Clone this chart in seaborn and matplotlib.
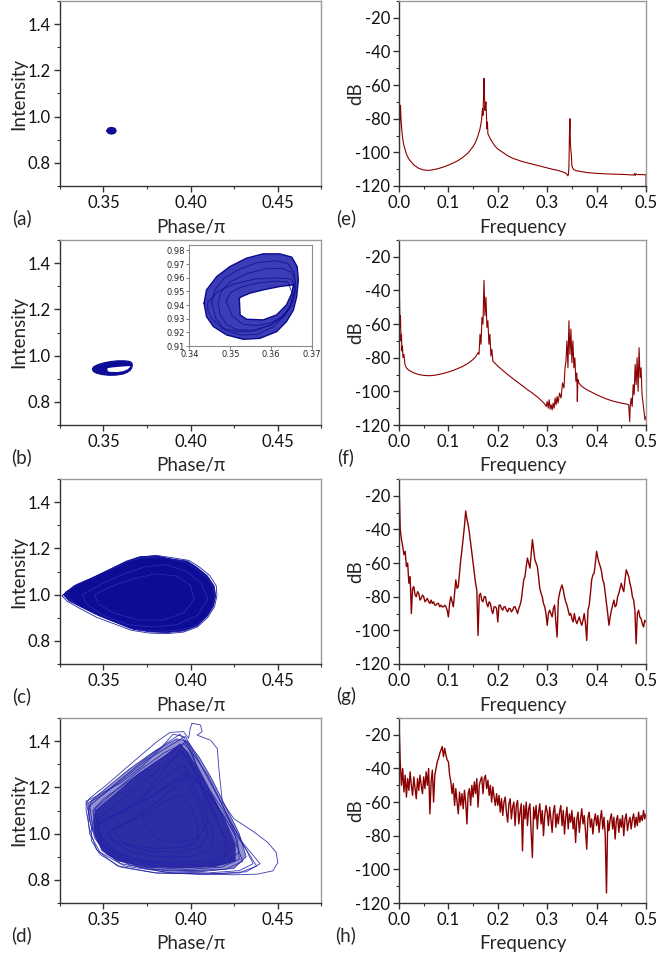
import numpy as np
import pandas as pd
import matplotlib
matplotlib.use('Agg')
import matplotlib.pyplot as plt
import seaborn as sns
from matplotlib.ticker import MultipleLocator

sns.set_theme(style='ticks')
plt.rcParams['font.family'] = ['Lato', 'DejaVu Sans']

# ---------------- data: phase portraits ----------------
a_phase = [0.3524, 0.3530, 0.3546, 0.3562, 0.3568, 0.3562, 0.3546, 0.3530]
a_intensity = [0.939, 0.947, 0.950, 0.947, 0.939, 0.931, 0.928, 0.931]

b_outer_phase = [0.3436, 0.3442, 0.3467, 0.3499, 0.3540, 0.3580, 0.3621, 0.3650, 0.3663, 0.3666,
                 0.3662, 0.3654, 0.3637, 0.3613, 0.3572, 0.3532, 0.3491, 0.3459, 0.3442]
b_outer_intensity = [0.9413, 0.9511, 0.9609, 0.9682, 0.9744, 0.9775, 0.9775, 0.9751, 0.9682, 0.9585,
                     0.9462, 0.9364, 0.9279, 0.9205, 0.9156, 0.9149, 0.9181, 0.9242, 0.9315]
b_hole_phase = [0.3522, 0.3524, 0.3540, 0.3580, 0.3613, 0.3637, 0.3650, 0.3654, 0.3621, 0.3580,
                0.3548, 0.3528]
b_hole_intensity = [0.9450, 0.9328, 0.9296, 0.9291, 0.9328, 0.9401, 0.9487, 0.9548, 0.9536, 0.9511,
                    0.9487, 0.9462]
b_texture_phase = [
    [0.3470, 0.3478, 0.3500, 0.3540, 0.3585, 0.3625, 0.3650, 0.3658, 0.3655, 0.3645,
     0.3625, 0.3595, 0.3555, 0.3515, 0.3490, 0.3475],
    [0.3445, 0.3470, 0.3510, 0.3560, 0.3610, 0.3650, 0.3660, 0.3650, 0.3630, 0.3600,
     0.3560, 0.3520, 0.3480, 0.3455, 0.3445],
    [0.3455, 0.3462, 0.3485, 0.3520, 0.3565, 0.3610, 0.3640, 0.3655, 0.3660, 0.3652,
     0.3635, 0.3605, 0.3565, 0.3525, 0.3488, 0.3465],
    [0.3490, 0.3500, 0.3525, 0.3565, 0.3605, 0.3640, 0.3652, 0.3648, 0.3630, 0.3600,
     0.3565, 0.3530, 0.3505],
]
b_texture_intensity = [
    [0.9420, 0.9500, 0.9570, 0.9630, 0.9665, 0.9670, 0.9640, 0.9580, 0.9480, 0.9390,
     0.9310, 0.9250, 0.9215, 0.9220, 0.9260, 0.9330],
    [0.9420, 0.9500, 0.9555, 0.9590, 0.9600, 0.9590, 0.9500, 0.9400, 0.9320, 0.9255,
     0.9210, 0.9205, 0.9230, 0.9300, 0.9360],
    [0.9415, 0.9510, 0.9595, 0.9660, 0.9710, 0.9725, 0.9705, 0.9640, 0.9540, 0.9430,
     0.9330, 0.9240, 0.9185, 0.9180, 0.9215, 0.9300],
    [0.9430, 0.9490, 0.9530, 0.9560, 0.9575, 0.9570, 0.9480, 0.9390, 0.9320, 0.9270,
     0.9250, 0.9260, 0.9320],
]

c_outer_phase = [0.3269, 0.3341, 0.3438, 0.3535, 0.3632, 0.3709, 0.3806, 0.3884, 0.3981, 0.4039,
                 0.4097, 0.4136, 0.4145, 0.4132, 0.4097, 0.4039, 0.3961, 0.3864, 0.3767, 0.3671,
                 0.3574, 0.3477, 0.3380, 0.3302]
c_outer_intensity = [1.000, 1.040, 1.073, 1.109, 1.145, 1.164, 1.167, 1.155, 1.145, 1.117,
                     1.081, 1.037, 0.994, 0.951, 0.908, 0.865, 0.843, 0.836, 0.839, 0.850,
                     0.879, 0.908, 0.944, 0.973]
c_edge_phase = [
    [0.3262, 0.3330, 0.3430, 0.3530, 0.3630, 0.3710, 0.3800, 0.3890, 0.3990, 0.4050, 0.4110, 0.4148,
     0.4152, 0.4138, 0.4100, 0.4040, 0.3960, 0.3860, 0.3760, 0.3660, 0.3560, 0.3460, 0.3360, 0.3290],
    [0.3280, 0.3350, 0.3450, 0.3550, 0.3650, 0.3730, 0.3820, 0.3900, 0.3970, 0.4030, 0.4090, 0.4130,
     0.4140, 0.4125, 0.4090, 0.4030, 0.3950, 0.3850, 0.3750, 0.3650, 0.3550, 0.3450, 0.3350, 0.3300],
]
c_edge_intensity = [
    [0.995, 1.038, 1.071, 1.106, 1.141, 1.162, 1.170, 1.160, 1.148, 1.120, 1.083, 1.038,
     0.995, 0.948, 0.903, 0.860, 0.838, 0.831, 0.834, 0.846, 0.874, 0.902, 0.942, 0.972],
    [1.010, 1.045, 1.077, 1.112, 1.146, 1.160, 1.163, 1.152, 1.140, 1.112, 1.076, 1.033,
     0.990, 0.945, 0.905, 0.866, 0.848, 0.842, 0.844, 0.856, 0.886, 0.917, 0.955, 0.985],
]
c_inner_phase = [
    [0.338, 0.350, 0.362, 0.374, 0.386, 0.398, 0.406, 0.410, 0.404, 0.392, 0.378, 0.364, 0.350, 0.340],
    [0.345, 0.356, 0.368, 0.380, 0.392, 0.400, 0.402, 0.396, 0.384, 0.370, 0.356, 0.347],
]
c_inner_intensity = [
    [1.00, 1.05, 1.09, 1.12, 1.13, 1.10, 1.05, 0.98, 0.91, 0.87, 0.86, 0.87, 0.91, 0.96],
    [1.00, 1.04, 1.07, 1.09, 1.08, 1.04, 0.98, 0.92, 0.89, 0.89, 0.92, 0.96],
]

d_hull_phase = [0.341, 0.352, 0.365, 0.380, 0.392, 0.398, 0.405, 0.412, 0.420, 0.428, 0.432, 0.425,
                0.405, 0.385, 0.365, 0.352, 0.345, 0.342]
d_hull_intensity = [1.13, 1.20, 1.28, 1.36, 1.41, 1.40, 1.33, 1.24, 1.12, 1.00, 0.90, 0.85,
                    0.835, 0.84, 0.865, 0.91, 0.98, 1.06]
d_core_phase = [0.345, 0.356, 0.370, 0.384, 0.394, 0.399, 0.405, 0.413, 0.421, 0.426, 0.426, 0.414,
                0.395, 0.375, 0.358, 0.349, 0.345, 0.344]
d_core_intensity = [1.10, 1.17, 1.26, 1.33, 1.39, 1.35, 1.27, 1.16, 1.04, 0.95, 0.88, 0.855,
                    0.85, 0.855, 0.88, 0.925, 0.99, 1.05]
d_loops_phase = [
    [0.4009, 0.4057, 0.4067, 0.4038, 0.4115, 0.4154, 0.4163, 0.4183, 0.4250, 0.4367, 0.4444, 0.4492,
     0.4502, 0.4473, 0.4386, 0.4250, 0.4057, 0.3864, 0.3709, 0.3573, 0.3477, 0.3428, 0.3403, 0.3418,
     0.3515, 0.3670, 0.3806, 0.3883, 0.3960, 0.3989, 0.3999],
    [0.341, 0.352, 0.365, 0.380, 0.392, 0.398, 0.405, 0.412, 0.420, 0.428, 0.432, 0.425, 0.405, 0.385,
     0.365, 0.352, 0.345, 0.342],
    [0.344, 0.356, 0.370, 0.385, 0.396, 0.402, 0.410, 0.418, 0.425, 0.428, 0.420, 0.400, 0.380, 0.362,
     0.350, 0.345],
    [0.346, 0.358, 0.372, 0.386, 0.395, 0.400, 0.406, 0.414, 0.420, 0.420, 0.410, 0.390, 0.372, 0.357,
     0.349],
    [0.350, 0.362, 0.376, 0.388, 0.396, 0.401, 0.408, 0.413, 0.412, 0.400, 0.382, 0.366, 0.355],
    [0.343, 0.350, 0.362, 0.375, 0.388, 0.397, 0.401, 0.407, 0.415, 0.424, 0.432, 0.436, 0.428, 0.410,
     0.385, 0.362, 0.348, 0.342, 0.341],
    [0.355, 0.366, 0.378, 0.389, 0.397, 0.402, 0.407, 0.410, 0.405, 0.392, 0.376, 0.363],
    [0.347, 0.360, 0.375, 0.390, 0.400, 0.410, 0.420, 0.427, 0.428, 0.418, 0.398, 0.375, 0.358, 0.349],
    [0.372, 0.382, 0.391, 0.397, 0.401, 0.404, 0.408, 0.410, 0.404, 0.392, 0.380, 0.373],
    [0.340, 0.348, 0.360, 0.372, 0.383, 0.390, 0.396, 0.399, 0.403, 0.410, 0.418, 0.430, 0.440, 0.432,
     0.410, 0.380, 0.358, 0.346, 0.342, 0.340],
    [0.342, 0.356, 0.372, 0.386, 0.394, 0.398, 0.404, 0.411, 0.419, 0.426, 0.430, 0.420, 0.400, 0.378,
     0.360, 0.349, 0.344],
    [0.345, 0.350, 0.365, 0.380, 0.392, 0.399, 0.405, 0.412, 0.418, 0.423, 0.418, 0.402, 0.382, 0.365,
     0.353, 0.347],
    [0.352, 0.362, 0.375, 0.386, 0.394, 0.400, 0.404, 0.404, 0.395, 0.380, 0.365, 0.356],
    [0.343, 0.350, 0.365, 0.382, 0.396, 0.404, 0.414, 0.424, 0.433, 0.438, 0.428, 0.405, 0.380, 0.360,
     0.348, 0.343],
]
d_loops_intensity = [
    [1.477, 1.470, 1.441, 1.426, 1.404, 1.368, 1.281, 1.136, 1.064, 1.006, 0.962, 0.919,
     0.875, 0.839, 0.825, 0.822, 0.825, 0.832, 0.854, 0.904, 0.962, 1.035, 1.129, 1.151,
     1.209, 1.310, 1.397, 1.438, 1.441, 1.412, 1.456],
    [1.13, 1.20, 1.28, 1.36, 1.41, 1.40, 1.33, 1.24, 1.12, 1.00, 0.90, 0.85, 0.835, 0.84,
     0.865, 0.91, 0.98, 1.06],
    [1.10, 1.18, 1.27, 1.35, 1.39, 1.34, 1.25, 1.13, 1.01, 0.92, 0.87, 0.855, 0.86, 0.89,
     0.95, 1.03],
    [1.06, 1.13, 1.22, 1.30, 1.35, 1.30, 1.20, 1.08, 0.98, 0.91, 0.88, 0.875, 0.885, 0.92,
     0.98],
    [1.05, 1.10, 1.18, 1.26, 1.30, 1.22, 1.10, 1.00, 0.93, 0.90, 0.90, 0.92, 0.97],
    [1.14, 1.17, 1.24, 1.32, 1.38, 1.42, 1.37, 1.28, 1.17, 1.04, 0.93, 0.87, 0.84, 0.83,
     0.835, 0.86, 0.92, 1.00, 1.08],
    [1.02, 1.06, 1.12, 1.19, 1.24, 1.17, 1.08, 0.99, 0.94, 0.92, 0.925, 0.95],
    [1.05, 1.09, 1.15, 1.22, 1.25, 1.18, 1.07, 0.97, 0.89, 0.855, 0.845, 0.855, 0.885, 0.95],
    [1.15, 1.25, 1.33, 1.40, 1.36, 1.27, 1.16, 1.05, 0.98, 0.96, 0.98, 1.05],
    [1.14, 1.17, 1.22, 1.29, 1.37, 1.43, 1.42, 1.38, 1.30, 1.20, 1.11, 0.96, 0.87, 0.835,
     0.825, 0.83, 0.86, 0.93, 1.02, 1.10],
    [1.12, 1.21, 1.31, 1.39, 1.43, 1.38, 1.29, 1.19, 1.07, 0.96, 0.88, 0.845, 0.84, 0.845,
     0.87, 0.93, 1.02],
    [1.11, 1.15, 1.23, 1.31, 1.37, 1.33, 1.23, 1.12, 1.01, 0.93, 0.88, 0.865, 0.87, 0.89,
     0.94, 1.01],
    [1.00, 1.04, 1.09, 1.14, 1.17, 1.12, 1.04, 0.97, 0.94, 0.935, 0.95, 0.97],
    [1.02, 1.06, 1.11, 1.18, 1.26, 1.23, 1.13, 1.02, 0.92, 0.86, 0.83, 0.825, 0.83, 0.855,
     0.91, 0.97],
]

# ---------------- data: spectra ----------------
e_spectrum = [
    (0.000, -10), (0.000, -100), (0.001, -90), (0.002, -78), (0.003, -72), (0.004, -80), (0.006, -88),
    (0.008, -93), (0.010, -96), (0.015, -101), (0.020, -104), (0.030, -107.5), (0.040, -109.5),
    (0.050, -110.5), (0.060, -110.7), (0.070, -110.3), (0.080, -109.6), (0.090, -108.7), (0.100, -107.6),
    (0.110, -106.3), (0.120, -104.8), (0.130, -102.8), (0.140, -100.3), (0.150, -96.5), (0.155, -94),
    (0.160, -90), (0.164, -86), (0.167, -81), (0.169, -74), (0.170, -78), (0.171, -68), (0.172, -56),
    (0.173, -66), (0.174, -75), (0.175, -72), (0.176, -70), (0.177, -78), (0.178, -86), (0.179, -82),
    (0.180, -89), (0.185, -92), (0.190, -94.5), (0.195, -96.5), (0.200, -98), (0.205, -99), (0.210, -100),
    (0.220, -102), (0.230, -103.5), (0.250, -105.5), (0.270, -107), (0.290, -108.5), (0.310, -110),
    (0.325, -111), (0.335, -112), (0.340, -113), (0.342, -114), (0.343, -113), (0.344, -108), (0.345, -90),
    (0.346, -80), (0.347, -95), (0.348, -99), (0.349, -102), (0.350, -108), (0.352, -109.5), (0.355, -110.5),
    (0.360, -111), (0.380, -112), (0.400, -112.5), (0.420, -112.8), (0.440, -113), (0.460, -113.2),
    (0.475, -113.5), (0.477, -112.5), (0.478, -113.8), (0.480, -112.8), (0.482, -113.2), (0.490, -113.2),
    (0.498, -113.3), (0.500, -113.3), (0.500, -120),
]
f_spectrum = [
    (0.000, -10), (0.000, -35), (0.001, -45), (0.002, -62), (0.003, -55), (0.004, -70), (0.005, -66),
    (0.006, -76), (0.007, -73), (0.008, -80), (0.010, -78), (0.012, -84), (0.015, -86), (0.020, -87.5),
    (0.030, -89), (0.040, -90), (0.050, -90.5), (0.060, -90.7), (0.070, -90.5), (0.080, -90),
    (0.090, -89.3), (0.100, -88.5), (0.110, -87.5), (0.120, -86.3), (0.130, -85), (0.140, -83.3),
    (0.150, -81), (0.155, -79.5), (0.160, -77), (0.162, -78), (0.164, -66), (0.166, -72), (0.168, -56),
    (0.170, -60), (0.172, -34), (0.174, -55), (0.176, -44), (0.178, -62), (0.180, -58), (0.182, -72),
    (0.184, -66), (0.186, -79), (0.188, -75), (0.190, -82), (0.200, -85), (0.210, -87.5), (0.220, -90),
    (0.230, -92.3), (0.240, -94.5), (0.250, -96.7), (0.260, -99), (0.270, -101), (0.280, -103.3),
    (0.290, -106), (0.295, -107.5), (0.298, -109), (0.300, -106), (0.302, -110), (0.304, -105),
    (0.306, -110.5), (0.308, -108), (0.310, -111), (0.312, -107), (0.314, -110), (0.316, -104),
    (0.318, -108), (0.320, -103), (0.322, -107), (0.325, -101), (0.328, -104), (0.331, -95), (0.334, -98),
    (0.336, -86), (0.338, -82), (0.340, -70), (0.342, -86), (0.344, -58), (0.346, -78), (0.348, -63),
    (0.350, -83), (0.352, -70), (0.354, -86), (0.356, -80), (0.358, -94), (0.360, -89), (0.361, -106),
    (0.362, -93), (0.364, -95), (0.370, -97), (0.380, -99), (0.390, -100.5), (0.400, -102),
    (0.410, -103.3), (0.420, -104.5), (0.430, -105.5), (0.440, -106.3), (0.450, -107), (0.460, -107.5),
    (0.465, -108), (0.467, -118), (0.468, -109), (0.470, -104), (0.472, -109), (0.474, -96), (0.476, -102),
    (0.478, -84), (0.480, -96), (0.482, -80), (0.484, -100), (0.486, -74), (0.488, -92), (0.490, -86),
    (0.492, -102), (0.494, -107), (0.496, -112), (0.498, -117), (0.500, -115),
]
gh_freq = [
    0.0000, 0.0025, 0.0050, 0.0075, 0.0100, 0.0125, 0.0150, 0.0175, 0.0200, 0.0225,
    0.0250, 0.0275, 0.0300, 0.0325, 0.0350, 0.0375, 0.0400, 0.0425, 0.0450, 0.0475,
    0.0500, 0.0525, 0.0550, 0.0575, 0.0600, 0.0625, 0.0650, 0.0675, 0.0700, 0.0725,
    0.0750, 0.0775, 0.0800, 0.0825, 0.0850, 0.0875, 0.0900, 0.0925, 0.0950, 0.0975,
    0.1000, 0.1025, 0.1050, 0.1075, 0.1100, 0.1125, 0.1150, 0.1175, 0.1200, 0.1225,
    0.1250, 0.1275, 0.1300, 0.1325, 0.1350, 0.1375, 0.1400, 0.1425, 0.1450, 0.1475,
    0.1500, 0.1525, 0.1550, 0.1575, 0.1600, 0.1625, 0.1650, 0.1675, 0.1700, 0.1725,
    0.1750, 0.1775, 0.1800, 0.1825, 0.1850, 0.1875, 0.1900, 0.1925, 0.1950, 0.1975,
    0.2000, 0.2025, 0.2050, 0.2075, 0.2100, 0.2125, 0.2150, 0.2175, 0.2200, 0.2225,
    0.2250, 0.2275, 0.2300, 0.2325, 0.2350, 0.2375, 0.2400, 0.2425, 0.2450, 0.2475,
    0.2500, 0.2525, 0.2550, 0.2575, 0.2600, 0.2625, 0.2650, 0.2675, 0.2700, 0.2725,
    0.2750, 0.2775, 0.2800, 0.2825, 0.2850, 0.2875, 0.2900, 0.2925, 0.2950, 0.2975,
    0.3000, 0.3025, 0.3050, 0.3075, 0.3100, 0.3125, 0.3150, 0.3175, 0.3200, 0.3225,
    0.3250, 0.3275, 0.3300, 0.3325, 0.3350, 0.3375, 0.3400, 0.3425, 0.3450, 0.3475,
    0.3500, 0.3525, 0.3550, 0.3575, 0.3600, 0.3625, 0.3650, 0.3675, 0.3700, 0.3725,
    0.3750, 0.3775, 0.3800, 0.3825, 0.3850, 0.3875, 0.3900, 0.3925, 0.3950, 0.3975,
    0.4000, 0.4025, 0.4050, 0.4075, 0.4100, 0.4125, 0.4150, 0.4175, 0.4200, 0.4225,
    0.4250, 0.4275, 0.4300, 0.4325, 0.4350, 0.4375, 0.4400, 0.4425, 0.4450, 0.4475,
    0.4500, 0.4525, 0.4550, 0.4575, 0.4600, 0.4625, 0.4650, 0.4675, 0.4700, 0.4725,
    0.4750, 0.4775, 0.4800, 0.4825, 0.4850, 0.4875, 0.4900, 0.4925, 0.4950, 0.4975,
    0.5000,
]
g_db = [
    -12, -40, -46, -50, -55, -53, -62, -60, -72, -68,
    -90, -75, -74, -79, -80, -77, -78, -82, -81, -79,
    -80, -83, -82, -81, -83, -84, -82, -84, -83, -85,
    -85, -84, -84, -86, -85, -86, -86, -85, -86, -88,
    -92, -84, -80, -83, -86, -78, -70, -75, -74, -66,
    -58, -52, -45, -38, -29, -34, -37, -42, -48, -54,
    -60, -66, -72, -76, -103, -79, -78, -82, -83, -80,
    -80, -84, -86, -83, -84, -88, -90, -86, -86, -87,
    -95, -85, -85, -87, -88, -86, -86, -88, -89, -87,
    -87, -89, -88, -86, -86, -88, -90, -87, -85, -82,
    -76, -70, -68, -62, -57, -60, -63, -55, -46, -52,
    -58, -60, -62, -68, -75, -78, -80, -84, -86, -90,
    -97, -90, -88, -90, -92, -87, -85, -95, -104, -82,
    -78, -75, -73, -76, -80, -83, -85, -88, -91, -90,
    -93, -95, -90, -94, -96, -94, -92, -95, -97, -94,
    -90, -96, -106, -88, -85, -78, -70, -67, -66, -60,
    -53, -57, -60, -62, -65, -70, -72, -78, -84, -90,
    -97, -92, -88, -85, -82, -86, -85, -80, -78, -75,
    -72, -75, -77, -70, -64, -66, -68, -72, -75, -80,
    -82, -88, -108, -90, -88, -92, -93, -96, -98, -94,
    -95,
]
h_db = [
    -12, -36, -50, -40, -54, -44, -57, -46, -53, -42,
    -50, -56, -45, -52, -58, -46, -53, -44, -50, -55,
    -45, -52, -42, -50, -40, -67, -48, -41, -60, -44,
    -40, -36, -34, -31, -29, -27, -33, -28, -32, -35,
    -36, -44, -48, -55, -49, -62, -52, -60, -67, -54,
    -62, -55, -64, -53, -60, -73, -55, -52, -62, -50,
    -57, -48, -55, -46, -63, -50, -47, -45, -55, -46,
    -44, -52, -47, -56, -50, -60, -51, -57, -62, -55,
    -62, -56, -66, -58, -68, -60, -57, -66, -72, -61,
    -58, -70, -63, -60, -74, -62, -59, -73, -66, -61,
    -89, -62, -70, -60, -74, -64, -61, -78, -93, -63,
    -70, -62, -76, -66, -61, -73, -65, -80, -68, -62,
    -66, -74, -63, -70, -78, -66, -62, -75, -67, -73,
    -66, -62, -74, -65, -79, -69, -63, -76, -67, -72,
    -65, -76, -69, -84, -70, -66, -78, -70, -64, -73,
    -68, -77, -88, -69, -66, -75, -70, -79, -71, -67,
    -74, -68, -78, -70, -65, -76, -69, -80, -114, -71,
    -77, -70, -67, -76, -69, -82, -71, -68, -78, -70,
    -75, -68, -80, -70, -67, -77, -72, -69, -76, -70,
    -67, -75, -69, -74, -66, -72, -68, -71, -65, -70,
    -67,
]

phase_ticks = [0.35, 0.40, 0.45]
phase_ticklabels = ['0.35', '0.40', '0.45']
intensity_ticks = [0.8, 1.0, 1.2, 1.4]
intensity_ticklabels = ['0.8', '1.0', '1.2', '1.4']
freq_ticks = [0.0, 0.1, 0.2, 0.3, 0.4, 0.5]
freq_ticklabels = ['0.0', '0.1', '0.2', '0.3', '0.4', '0.5']
db_ticks = [-120, -100, -80, -60, -40, -20]
db_ticklabels = ['-120', '-100', '-80', '-60', '-40', '-20']
left_tags = ['(a)', '(b)', '(c)', '(d)']
right_tags = ['(e)', '(f)', '(g)', '(h)']

# ---------------- styling ----------------
BLUE = '#0c0c96'
LINE_BLUE = '#2222a8'
RED = '#8b0000'
W, H = 658, 959
TICK_FS = 12
LAB_FS = 13.5

fig = plt.figure(figsize=(W / 100, H / 100), dpi=100)
row_tops = [1, 240, 479, 718]
ax_h = 185


def make_axes(left_px, width_px, top_px):
    return fig.add_axes([left_px / W, 1 - (top_px + ax_h) / H, width_px / W, ax_h / H])


def style_axes(ax, xlim, ylim, xt, xtl, yt, ytl, xminor, yminor):
    ax.set_xlim(*xlim)
    ax.set_ylim(*ylim)
    ax.set_xticks(xt)
    ax.set_xticklabels(xtl)
    ax.set_yticks(yt)
    ax.set_yticklabels(ytl)
    ax.xaxis.set_minor_locator(MultipleLocator(xminor))
    ax.yaxis.set_minor_locator(MultipleLocator(yminor))
    ax.tick_params(which='major', direction='out', length=4, width=1, color='#333333',
                   labelsize=TICK_FS, pad=2.5, labelcolor='#111111')
    ax.tick_params(which='minor', direction='out', length=2.5, width=0.8, color='#333333')
    ax.tick_params(top=False, right=False, which='both')
    for s in ['left', 'bottom']:
        ax.spines[s].set_color('#333333')
        ax.spines[s].set_linewidth(1.0)
    for s in ['right', 'top']:
        ax.spines[s].set_visible(True)
        ax.spines[s].set_color('#9a9a9a')
        ax.spines[s].set_linewidth(1.0)
    ax.set_xlabel('')
    ax.set_ylabel('')
    ax.grid(False)
    ax.set_facecolor('white')


def draw_loop(ax, xs, ys, color, lw, alpha=1.0):
    df = pd.DataFrame({'phase': list(xs) + [xs[0]], 'intensity': list(ys) + [ys[0]]})
    sns.lineplot(data=df, x='phase', y='intensity', sort=False, estimator=None, ax=ax,
                 color=color, lw=lw, alpha=alpha, legend=False)


def draw_spectrum(ax, freqs, dbs, lw):
    df = pd.DataFrame({'freq': freqs, 'dB': dbs})
    sns.lineplot(data=df, x='freq', y='dB', sort=False, estimator=None, ax=ax,
                 color=RED, lw=lw, legend=False)


left_axes = [make_axes(60, 261, t) for t in row_tops]
right_axes = [make_axes(399, 247, t) for t in row_tops]

# (a)
ax = left_axes[0]
ax.fill(a_phase, a_intensity, color=BLUE, lw=0)
draw_loop(ax, a_phase, a_intensity, BLUE, 2.0)

# (b)
ax = left_axes[1]
ax.fill(b_outer_phase, b_outer_intensity, color=BLUE, lw=0)
ax.fill(b_hole_phase, b_hole_intensity, color='white', lw=0)
draw_loop(ax, b_outer_phase, b_outer_intensity, BLUE, 0.8)

# (c)
ax = left_axes[2]
ax.fill(c_outer_phase, c_outer_intensity, color=BLUE, lw=0)
for xs, ys in zip(c_inner_phase, c_inner_intensity):
    draw_loop(ax, xs, ys, '#4a4ac4', 0.5, 0.6)
for xs, ys in zip(c_edge_phase, c_edge_intensity):
    draw_loop(ax, xs, ys, LINE_BLUE, 0.6)
draw_loop(ax, c_outer_phase, c_outer_intensity, BLUE, 0.6)

# (d)
ax = left_axes[3]
ax.fill(d_hull_phase, d_hull_intensity, color=BLUE, lw=0, alpha=0.45)
ax.fill(d_core_phase, d_core_intensity, color=BLUE, lw=0, alpha=0.75)
for xs, ys in zip(d_loops_phase, d_loops_intensity):
    draw_loop(ax, xs, ys, LINE_BLUE, 0.6, 0.9)

for ax, tag in zip(left_axes, left_tags):
    style_axes(ax, (0.325, 0.475), (0.7, 1.5), phase_ticks, phase_ticklabels,
               intensity_ticks, intensity_ticklabels, 0.025, 0.1)
    ax.text(0.5, -41 / ax_h, 'Phase/\u03c0', transform=ax.transAxes, ha='center', va='center',
            fontsize=LAB_FS)
    ax.text(-41 / 261, 0.5, 'Intensity', transform=ax.transAxes, ha='center', va='center',
            rotation=90, fontsize=LAB_FS)
    ax.text(-38 / 261, -32 / ax_h, tag, transform=ax.transAxes, ha='center', va='center',
            fontsize=LAB_FS)

# inset of (b)
axi = fig.add_axes([189.3 / W, 1 - 346 / H, 123 / W, 101 / H])
axi.fill(b_outer_phase, b_outer_intensity, color='#3c3cb6', lw=0)
axi.fill(b_hole_phase, b_hole_intensity, color='white', lw=0)
for xs, ys in zip(b_texture_phase, b_texture_intensity):
    draw_loop(axi, xs, ys, '#10108f', 0.7, 0.8)
draw_loop(axi, b_outer_phase, b_outer_intensity, '#0a0a8c', 1.0)
draw_loop(axi, b_hole_phase, b_hole_intensity, '#0a0a8c', 1.0)
axi.set_xlim(0.34, 0.37)
axi.set_ylim(0.91, 0.984)
axi.set_xticks([0.34, 0.35, 0.36, 0.37])
axi.set_xticklabels(['0.34', '0.35', '0.36', '0.37'])
axi.set_yticks([0.91, 0.92, 0.93, 0.94, 0.95, 0.96, 0.97, 0.98])
axi.set_yticklabels(['0.91', '0.92', '0.93', '0.94', '0.95', '0.96', '0.97', '0.98'])
axi.tick_params(direction='out', length=2, width=0.6, color='#666666', labelsize=6, pad=1)
for lab in axi.get_xticklabels() + axi.get_yticklabels():
    lab.set_family(['DejaVu Sans'])
for s in axi.spines.values():
    s.set_color('#8a8a8a')
    s.set_linewidth(0.8)
axi.set_xlabel('')
axi.set_ylabel('')
axi.grid(False)

# spectra
draw_spectrum(right_axes[0], [p[0] for p in e_spectrum], [p[1] for p in e_spectrum], 0.8)
draw_spectrum(right_axes[1], [p[0] for p in f_spectrum], [p[1] for p in f_spectrum], 0.8)
draw_spectrum(right_axes[2], gh_freq, g_db, 1.0)
draw_spectrum(right_axes[3], gh_freq, h_db, 1.0)

for ax, tag in zip(right_axes, right_tags):
    style_axes(ax, (0.0, 0.5), (-120, -10), freq_ticks, freq_ticklabels,
               db_ticks, db_ticklabels, 0.05, 10)
    ax.text(0.5, -41 / ax_h, 'Frequency', transform=ax.transAxes, ha='center', va='center',
            fontsize=LAB_FS)
    ax.text(-43 / 247, 0.5, 'dB', transform=ax.transAxes, ha='center', va='center',
            rotation=90, fontsize=LAB_FS)
    ax.text(-53 / 247, -32 / ax_h, tag, transform=ax.transAxes, ha='center', va='center',
            fontsize=LAB_FS)

fig.savefig('out.png', dpi=100, facecolor='white')
